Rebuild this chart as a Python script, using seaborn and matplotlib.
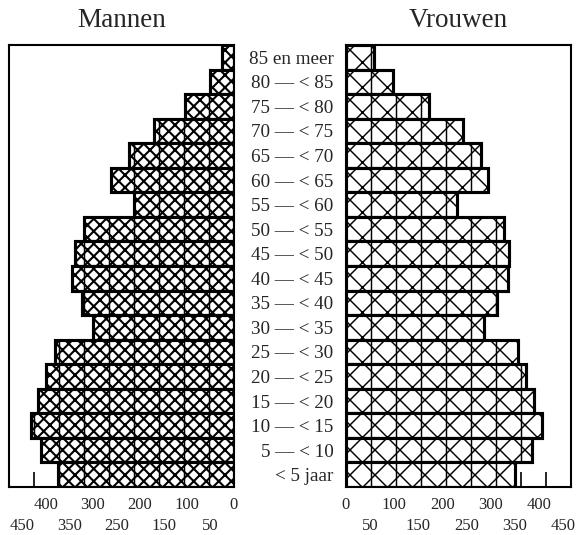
import matplotlib as mpl
mpl.use("Agg")
import matplotlib.pyplot as plt
import seaborn as sns
import pandas as pd
import numpy as np

age_groups = ["85 en meer", "80 — < 85", "75 — < 80", "70 — < 75", "65 — < 70",
              "60 — < 65", "55 — < 60", "50 — < 55", "45 — < 50", "40 — < 45",
              "35 — < 40", "30 — < 35", "25 — < 30", "20 — < 25", "15 — < 20",
              "10 — < 15", "5 — < 10", "< 5 jaar"]
mannen = [24, 47, 98, 160, 210, 245, 200, 300, 319, 324, 305, 282, 358, 376, 392, 407, 387, 352]
vrouwen = [55, 93, 165, 233, 269, 283, 221, 315, 325, 323, 301, 276, 343, 360, 375, 391, 371, 337]
tick_values = [0, 50, 100, 150, 200, 250, 300, 350, 400, 450]
tick_labels = ["0", "\n50", "100", "\n150", "200", "\n250", "300", "\n350", "400", "\n450"]

sns.set_style("white")
plt.rcParams["font.family"] = ["Liberation Serif", "DejaVu Serif"]

DPI = 150
fig = plt.figure(figsize=(577 / DPI, 535 / DPI), dpi=DPI)
ax_m = fig.add_axes([9 / 577, 48 / 535, 225 / 577, 442 / 535])
ax_v = fig.add_axes([346 / 577, 48 / 535, 225 / 577, 442 / 535])

df_m = pd.DataFrame({"leeftijd": age_groups, "aantal": mannen})
df_v = pd.DataFrame({"leeftijd": age_groups, "aantal": vrouwen})


def panel(ax, df, hatch, hatch_lw, title, label_scale):
    with plt.rc_context({"hatch.linewidth": hatch_lw, "hatch.color": "black"}):
        sns.barplot(data=df, x="aantal", y="leeftijd", orient="h", ax=ax,
                    color="white", edgecolor="black", linewidth=1.5, width=1.0,
                    saturation=1)
        for p in ax.patches:
            p.set_hatch(hatch)
            p.set_facecolor("white")
            p.set_edgecolor("black")
            p.set_zorder(2)
    for i, v in enumerate(df["aantal"]):
        xs = np.arange(50, v, 50)
        ax.vlines(xs, i - 0.5, i + 0.5, color="black", lw=0.7, zorder=2.5)
    ax.set_ylim(len(df) - 0.5, -0.5)
    # printed labels sit slightly off the true tick marks in the original
    label_pos = [t * label_scale for t in tick_values]
    ax.set_xticks(label_pos)
    ax.set_xticklabels(tick_labels, fontsize=8, linespacing=1.4)
    ax.set_xticks(tick_values, minor=True)
    ax.tick_params(axis="x", which="major", length=0, pad=5,
                   bottom=True, top=False)
    ax.tick_params(axis="x", which="minor", direction="in", length=7, width=0.8,
                   bottom=True, top=False, color="black")
    ax.set_xlabel("")
    ax.set_ylabel("")
    for s in ax.spines.values():
        s.set_visible(True)
        s.set_color("black")
        s.set_linewidth(1.0)
    ax.set_title(title, fontsize=13, pad=8.5)


panel(ax_m, df_m, "xxxx", 1.0, "Mannen", 0.94)
panel(ax_v, df_v, "xx", 0.7, "Vrouwen", 0.965)

ax_m.set_xlim(450, 0)
ax_v.set_xlim(0, 450)
ax_m.set_yticks([])
ax_v.tick_params(axis="y", length=0, pad=6, labelsize=9.2)

fig.savefig("out.png", dpi=DPI)
